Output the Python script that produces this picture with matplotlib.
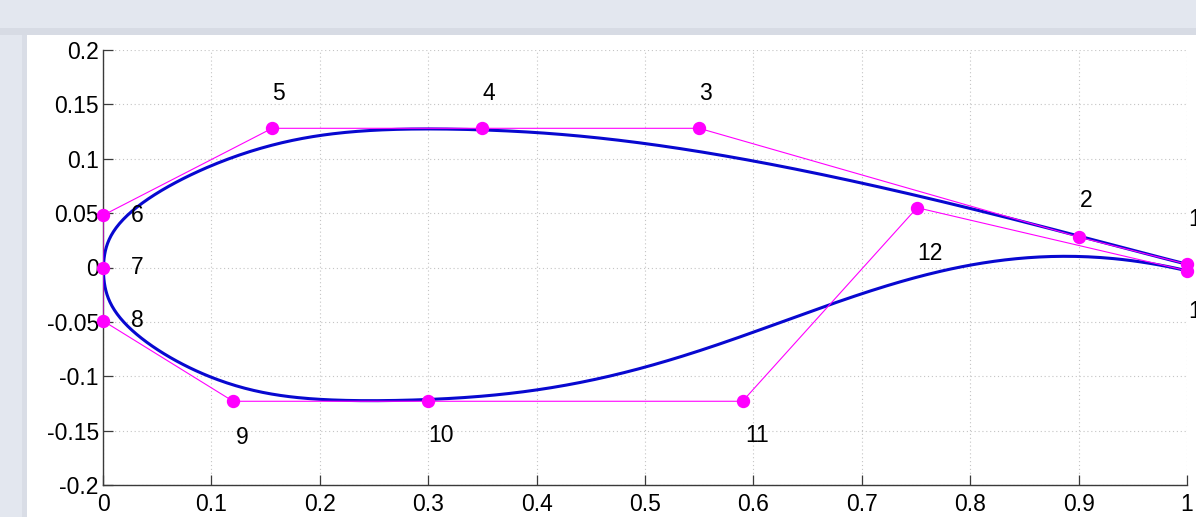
import numpy as np
import matplotlib.pyplot as plt
from matplotlib.patches import Rectangle
from matplotlib.ticker import FixedLocator, FuncFormatter

plt.rcParams['font.family'] = ['Liberation Sans', 'DejaVu Sans']
plt.rcParams['axes.unicode_minus'] = False

# control polygon of the airfoil (trailing edge -> upper -> leading edge -> lower -> trailing edge)
ctrl_x = [1.0, 0.9, 0.55, 0.35, 0.156, 0.0, 0.0, 0.0, 0.12, 0.30, 0.59, 0.751, 1.0]
ctrl_y = [0.003, 0.028, 0.128, 0.128, 0.128, 0.048, 0.0, -0.049, -0.123, -0.123, -0.123, 0.055, -0.003]
point_ids = list(range(1, 14))
spline_degree = 4

x_ticks = [0, 0.1, 0.2, 0.3, 0.4, 0.5, 0.6, 0.7, 0.8, 0.9, 1]
y_ticks = [-0.2, -0.15, -0.1, -0.05, 0, 0.05, 0.1, 0.15, 0.2]

# label offsets in pixels (dx, dy) from each control point
label_offsets = [(1, 45), (1, 37), (0, 35), (0, 35), (0, 35), (28, 0), (28, 0), (28, 0),
                 (3, -36), (0, -34), (3, -34), (0, -46), (1, -41)]


def bspline_basis(knots, degree, t):
    m = len(knots) - 1
    N = np.zeros((len(t), m))
    for i in range(m):
        N[:, i] = (knots[i] <= t) & (t < knots[i + 1])
    last = np.max(np.nonzero(knots < knots[-1]))
    N[t == knots[-1], last] = 1.0
    for k in range(1, degree + 1):
        Nk = np.zeros((len(t), m - k))
        for i in range(m - k):
            d1 = knots[i + k] - knots[i]
            d2 = knots[i + k + 1] - knots[i + 1]
            a = (t - knots[i]) / d1 * N[:, i] if d1 > 0 else 0.0
            b = (knots[i + k + 1] - t) / d2 * N[:, i + 1] if d2 > 0 else 0.0
            Nk[:, i] = a + b
        N = Nk
    return N


def clamped_bspline(px, py, degree=3, num=800):
    # knots averaged from chord-length parameters of the control polygon
    P = np.column_stack([px, py])
    n = len(P)
    seg = np.linalg.norm(np.diff(P, axis=0), axis=1)
    u = np.concatenate([[0.0], np.cumsum(seg)]) / seg.sum()
    inner = [0.0] + [np.mean(u[j:j + degree]) for j in range(1, n - degree)] + [1.0]
    knots = np.concatenate([np.zeros(degree), inner, np.ones(degree)])
    t = np.linspace(0, 1, num)
    N = bspline_basis(knots, degree, t)
    C = N @ P
    return C[:, 0], C[:, 1]


curve_x, curve_y = clamped_bspline(ctrl_x, ctrl_y, degree=spline_degree)

W, H = 1196, 517
fig = plt.figure(figsize=(W / 100, H / 100), dpi=100, facecolor='#e3e7ef')

# window chrome behind the plot
for rect, col in [(((0, (H - 35) / H), 1, 7 / H), '#d7dbe4'),
                  (((22 / W, 0), 5 / W, (H - 35) / H), '#d9dde6'),
                  (((27 / W, 0), 1, (H - 35) / H), 'white')]:
    fig.patches.append(Rectangle(*rect, transform=fig.transFigure,
                                 facecolor=col, edgecolor='none', zorder=-10))

ax = fig.add_axes([103 / W, 32 / H, 1084 / W, 435 / H])
ax.set_zorder(5)
ax.set_facecolor('none')

ax.plot(curve_x, curve_y, color='#0808d0', linewidth=2.2, zorder=3)
ax.plot(ctrl_x, ctrl_y, color='#ff00ff', linewidth=0.8, zorder=4)
ax.plot(ctrl_x, ctrl_y, linestyle='none', marker='o', markersize=8.6,
        markerfacecolor='#ff00ff', markeredgecolor='#ff00ff', zorder=5, clip_on=False)

for pid, px, py, off in zip(point_ids, ctrl_x, ctrl_y, label_offsets):
    ax.annotate(str(pid), (px, py), xytext=off, textcoords='offset pixels',
                ha='left', va='center', fontsize=16.5, color='black',
                annotation_clip=False, zorder=6)

ax.set_xlim(0, 1)
ax.set_ylim(-0.2, 0.2)
ax.xaxis.set_major_locator(FixedLocator(x_ticks))
ax.yaxis.set_major_locator(FixedLocator(y_ticks))
fmt = FuncFormatter(lambda v, _: '%g' % round(v, 4))
ax.xaxis.set_major_formatter(fmt)
ax.yaxis.set_major_formatter(fmt)

ax.grid(True, color='#c4c4c4', linestyle=(0, (1, 2.5)), linewidth=0.8)
ax.set_axisbelow(True)
for side in ('top', 'right'):
    ax.spines[side].set_visible(False)
for side in ('left', 'bottom'):
    ax.spines[side].set_color('#3a3a3a')
    ax.spines[side].set_linewidth(1.0)

ax.tick_params(direction='in', length=7, width=0.9, color='#3a3a3a', labelsize=16.5)
ax.tick_params(axis='x', pad=6)
ax.tick_params(axis='y', pad=3)

fig.savefig('out.png', dpi=100, facecolor=fig.get_facecolor())
